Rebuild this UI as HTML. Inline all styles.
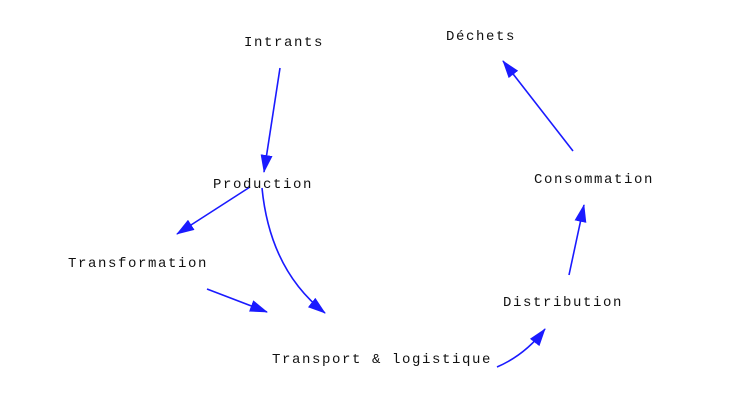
<!DOCTYPE html>
<html><head><meta charset="utf-8"><style>
body{margin:0;background:#fff;width:741px;height:407px;overflow:hidden}
text{font-family:"Liberation Mono",monospace;font-size:14px;letter-spacing:1.6px;fill:#111}
</style></head><body>
<svg width="741" height="407" viewBox="0 0 741 407">
<defs><marker id="a" markerWidth="18" markerHeight="12" refX="17" refY="6" orient="auto" markerUnits="userSpaceOnUse"><path d="M0,0 L18,6 L0,12 z" fill="#1a1aff"/></marker></defs>
<g stroke="#1a1aff" stroke-width="1.6" fill="none" marker-end="url(#a)">
<path d="M280,68 L264,172"/>
<path d="M250,187 L177,234"/>
<path d="M262,188 Q270,270 325,313"/>
<path d="M207,289 L267,312"/>
<path d="M497,367 Q525,355 545,329"/>
<path d="M569,275 L584,205"/>
<path d="M573,151 L503,61"/>
</g>
<g text-anchor="middle">
<text x="284" y="46">Intrants</text>
<text x="481" y="40">Déchets</text>
<text x="263" y="188">Production</text>
<text x="594" y="183">Consommation</text>
<text x="138" y="267">Transformation</text>
<text x="563" y="306">Distribution</text>
<text x="382" y="363">Transport &amp; logistique</text>
</g>
</svg>
</body></html>
